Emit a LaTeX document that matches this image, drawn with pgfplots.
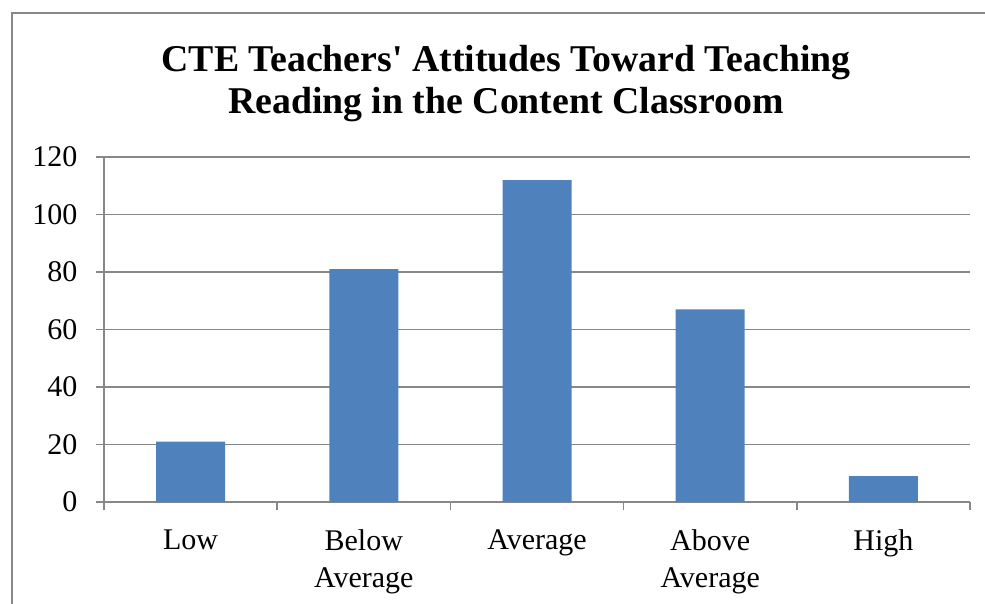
\documentclass[border=0pt]{standalone}
\usepackage{pgfplots}
\pgfplotsset{compat=1.18}
\usepackage{fontspec}
\setmainfont{Liberation Serif}
\definecolor{barblue}{HTML}{4F81BD}
\definecolor{gridgray}{HTML}{878787}
\begin{document}
\begin{tikzpicture}[x=1pt,y=1pt]
\useasboundingbox (0,0) rectangle (985,-603);
\begin{scope}
\clip (0,0) rectangle (985,-603);
\draw[gridgray, line width=1.5pt] (12,-13) rectangle (1010,-640);
\end{scope}
\node[font=\fontsize{37.8}{42}\selectfont\bfseries, align=center] at (506,-84) {CTE Teachers\textquotesingle{} Attitudes Toward Teaching\\Reading in the Content Classroom};
\begin{axis}[
  at={(104pt,-502pt)}, anchor=south west,
  scale only axis, width=866pt, height=345pt,
  xmin=-0.5, xmax=4.5, ymin=0, ymax=120,
  ytick={0,20,...,120},
  xtick={0,1,2,3,4},
  xticklabels={Low, Below\\Average, Average, Above\\Average, High},
  minor xtick={-0.5,0.5,1.5,2.5,3.5,4.5},
  /pgf/number format/assume math mode=true,
  xticklabel style={align=center, font=\fontsize{30}{37}\selectfont, yshift=-16pt},
  yticklabel style={font=\fontsize{30}{36}\selectfont, xshift=-15pt},
  axis x line*=bottom, axis y line*=left,
  axis line style={gridgray, line width=1.5pt, -},
  tick align=outside,
  major tick length=8pt, minor tick length=8pt,
  major x tick style={draw=none},
  minor x tick style={gridgray, line width=1.5pt},
  major y tick style={gridgray, line width=1.5pt},
  ymajorgrids, major grid style={gridgray, line width=1.5pt},
  ybar, bar width=69pt,
]
\addplot[fill=barblue, draw=none] coordinates {(0,21)(1,81)(2,112)(3,67)(4,9)};
\end{axis}
\end{tikzpicture}
\end{document}
